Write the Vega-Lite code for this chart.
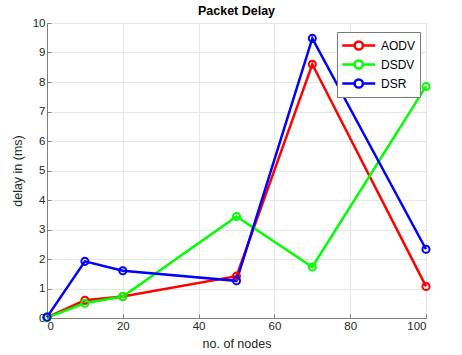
{
  "$schema": "https://vega.github.io/schema/vega-lite/v6.json",
  "width": 379,
  "height": 295,
  "autosize": {"type": "none"},
  "padding": {"left": 47, "top": 23, "right": 36, "bottom": 37},
  "title": {"text": "Packet Delay", "fontSize": 12.5, "fontWeight": "bold", "color": "#000000", "font": "Liberation Sans", "anchor": "middle", "offset": 0},
  "data": {
    "values": [
      {"nodes": 0, "protocol": "AODV", "delay": 0.02},
      {"nodes": 10, "protocol": "AODV", "delay": 0.6},
      {"nodes": 20, "protocol": "AODV", "delay": 0.73},
      {"nodes": 50, "protocol": "AODV", "delay": 1.42},
      {"nodes": 70, "protocol": "AODV", "delay": 8.6},
      {"nodes": 100, "protocol": "AODV", "delay": 1.07},
      {"nodes": 0, "protocol": "DSDV", "delay": 0.01},
      {"nodes": 10, "protocol": "DSDV", "delay": 0.5},
      {"nodes": 20, "protocol": "DSDV", "delay": 0.73},
      {"nodes": 50, "protocol": "DSDV", "delay": 3.44},
      {"nodes": 70, "protocol": "DSDV", "delay": 1.73},
      {"nodes": 100, "protocol": "DSDV", "delay": 7.85},
      {"nodes": 0, "protocol": "DSR", "delay": 0.03},
      {"nodes": 10, "protocol": "DSR", "delay": 1.92},
      {"nodes": 20, "protocol": "DSR", "delay": 1.6},
      {"nodes": 50, "protocol": "DSR", "delay": 1.26},
      {"nodes": 70, "protocol": "DSR", "delay": 9.48},
      {"nodes": 100, "protocol": "DSR", "delay": 2.33}
    ]
  },
  "mark": {"type": "line", "strokeWidth": 2.5, "point": {"filled": false, "size": 50, "strokeWidth": 2}},
  "encoding": {
    "x": {
      "field": "nodes", "type": "quantitative",
      "scale": {"domain": [0, 100], "nice": false, "zero": false},
      "axis": {"title": "no. of nodes", "values": [0, 20, 40, 60, 80, 100], "grid": true}
    },
    "y": {
      "field": "delay", "type": "quantitative",
      "scale": {"domain": [0, 10], "nice": false},
      "axis": {"title": "delay in (ms)", "values": [0, 1, 2, 3, 4, 5, 6, 7, 8, 9, 10], "grid": true}
    },
    "color": {
      "field": "protocol", "type": "nominal",
      "scale": {"domain": ["AODV", "DSDV", "DSR"], "range": ["#ff0000", "#00ff00", "#0000ff"]},
      "legend": {
        "title": null,
        "orient": "none",
        "legendX": 290,
        "legendY": 9,
        "direction": "vertical",
        "strokeColor": "#7a7a7a",
        "fillColor": "#ffffff",
        "padding": 4,
        "symbolType": "M-1,0L0.5,0M1.5,0L3,0M1.5,0A0.5,0.5 0 1 1 0.5,0A0.5,0.5 0 1 1 1.5,0",
        "symbolSize": 272,
        "symbolStrokeWidth": 2.5,
        "symbolFillColor": "transparent",
        "labelFontSize": 12,
        "labelColor": "#000000",
        "labelOffset": 21,
        "rowPadding": 0,
        "labelLimit": 200
      }
    }
  },
  "config": {
    "font": "Liberation Sans",
    "view": {"stroke": "#7f7f7f", "strokeWidth": 1},
    "axis": {
      "domainColor": "#7f7f7f",
      "tickColor": "#7f7f7f",
      "tickSize": -4,
      "gridColor": "#e6e6e6",
      "labelColor": "#262626",
      "labelFontSize": 11.5,
      "titleColor": "#262626",
      "titleFontSize": 12.5,
      "titleFontWeight": "normal",
      "labelPadding": 6
    },
    "axisX": {"titlePadding": 6},
    "axisY": {"titlePadding": 8}
  }
}
